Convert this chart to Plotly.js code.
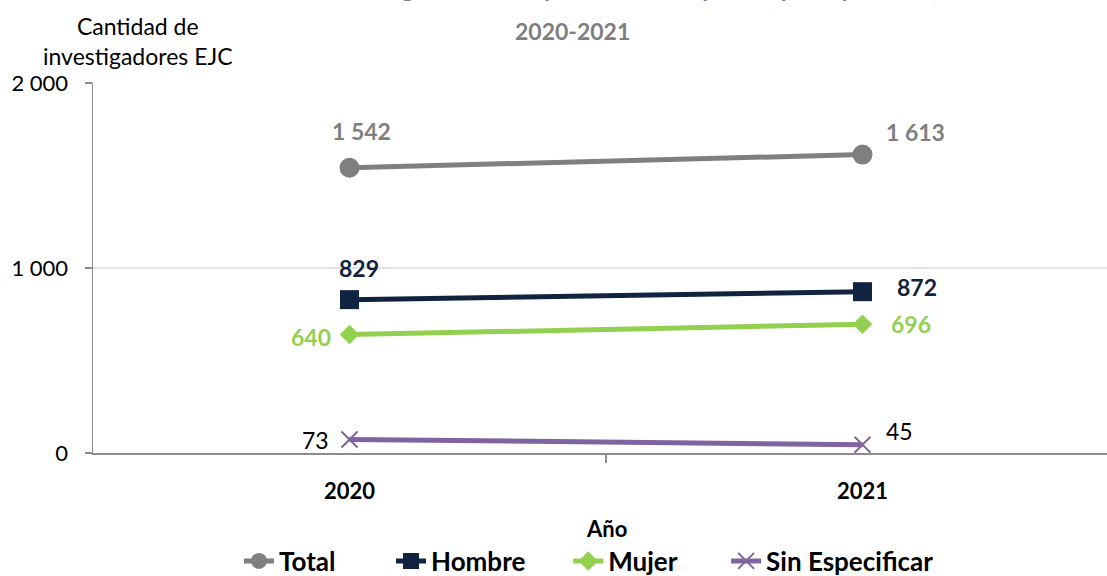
<!DOCTYPE html>
<html>
<head>
<meta charset="utf-8">
<script src="https://cdn.plot.ly/plotly-3.0.1.min.js"></script>
<style>
  html, body { margin: 0; padding: 0; background: #ffffff; }
  #chart { width: 1107px; height: 576px; }
</style>
</head>
<body>
<div id="chart"></div>
<script>
// ---- Data ----
const years = ['2020', '2021'];
const seriesNames = ['Total', 'Hombre', 'Mujer', 'Sin Especificar'];
const total = [1542, 1613];
const hombre = [829, 872];
const mujer = [640, 696];
const sinEspecificar = [73, 45];
const titleLine1 = 'Costa Rica: Investigadores en equivalente tiempo completo por sexo,';
const titleLine2 = '2020-2021';
const yAxisTitle = 'Cantidad de<br>investigadores EJC';
const xAxisTitle = 'Año';

// ---- Styles ----
const FONT = 'Lato, "Open Sans", sans-serif';
const colors = { total: '#7f7f7f', hombre: '#10243f', mujer: '#92d050', sin: '#8064a2' };
const xIdx = years.map((_, i) => i);
const NB = '\u00a0';
const legendPad = [8, 6, 7, 0];
function legendName(n, i) { return n + NB.repeat(legendPad[i]); }

function fmt(v) {
  return String(v).replace(/\B(?=(\d{3})+(?!\d))/g, ' ');
}

const traces = [
  { name: legendName(seriesNames[0], 0), x: xIdx, y: total, mode: 'lines+markers', type: 'scatter',
    line: { color: colors.total, width: 5 },
    marker: { symbol: 'circle', size: 20, color: colors.total } },
  { name: legendName(seriesNames[1], 1), x: xIdx, y: hombre, mode: 'lines+markers', type: 'scatter',
    line: { color: colors.hombre, width: 5 },
    marker: { symbol: 'square', size: 19, color: colors.hombre } },
  { name: legendName(seriesNames[2], 2), x: xIdx, y: mujer, mode: 'lines+markers', type: 'scatter',
    line: { color: colors.mujer, width: 5 },
    marker: { symbol: 'diamond', size: 15, color: colors.mujer } },
  { name: legendName(seriesNames[3], 3), x: xIdx, y: sinEspecificar, mode: 'lines+markers', type: 'scatter',
    line: { color: colors.sin, width: 5 },
    marker: { symbol: 'x-thin', size: 16, color: colors.sin, line: { color: colors.sin, width: 2 } } }
];

// label placement per series: [xshift, yshift, xanchor] for each year
const labelSpecs = [
  { vals: total, color: colors.total, bold: true, pos: [[12, 37, 'center'], [53, 23, 'center']] },
  { vals: hombre, color: colors.hombre, bold: true, pos: [[9, 32, 'center'], [54, 5, 'center']] },
  { vals: mujer, color: colors.mujer, bold: true, pos: [[-17, -2, 'right'], [48, 0, 'center']] },
  { vals: sinEspecificar, color: '#000000', bold: false, pos: [[-19, 0, 'right'], [37, 14, 'center']] }
];

const annotations = [];
labelSpecs.forEach(s => {
  s.vals.forEach((v, i) => {
    const p = s.pos[i];
    annotations.push({
      xref: 'x', yref: 'y', x: xIdx[i], y: v,
      text: s.bold ? '<b>' + fmt(v) + '</b>' : fmt(v),
      showarrow: false, xanchor: p[2], yanchor: 'middle',
      xshift: p[0], yshift: p[1],
      font: { family: FONT, size: 23, color: s.color }
    });
  });
});

// title (first line clipped at top as in reference)
annotations.push({
  xref: 'paper', yref: 'paper', x: 0.4724, y: (453 - 4) / 370, xanchor: 'center', yanchor: 'bottom',
  text: '<b>' + titleLine1 + '</b>', showarrow: false,
  font: { family: FONT, size: 24, color: '#7f7f7f' }
});
annotations.push({
  xref: 'paper', yref: 'paper', x: 0.4724, y: 1.1405, xanchor: 'center', yanchor: 'middle',
  text: '<b>' + titleLine2 + '</b>', showarrow: false,
  font: { family: FONT, size: 23, color: '#7f7f7f' }
});
// y axis title (horizontal, top-left)
annotations.push({
  xref: 'paper', yref: 'paper', x: (138 - 93) / 1014, y: (453 - 41) / 370,
  xanchor: 'center', yanchor: 'middle', align: 'center',
  text: yAxisTitle, showarrow: false,
  font: { family: FONT, size: 23, color: '#000000' }
});
// x axis title
annotations.push({
  xref: 'x', yref: 'paper', x: 0.5, y: (453 - 528) / 370,
  xanchor: 'center', yanchor: 'middle',
  text: '<b>' + xAxisTitle + '</b>', showarrow: false,
  font: { family: FONT, size: 22, color: '#000000' }
});

const layout = {
  width: 1107, height: 576,
  margin: { l: 93, r: 0, t: 83, b: 123, pad: 0, autoexpand: false },
  paper_bgcolor: '#ffffff', plot_bgcolor: '#ffffff',
  separators: ', ',
  font: { family: FONT, size: 22, color: '#000000' },
  showlegend: true,
  legend: {
    orientation: 'h', x: (239 - 93) / 1014, xanchor: 'left',
    yref: 'container', y: (576 - 561) / 576, yanchor: 'middle',
    font: { family: FONT, size: 26, color: '#000000', weight: 'bold' },
    traceorder: 'normal', itemclick: false, bgcolor: 'rgba(0,0,0,0)'
  },
  xaxis: {
    type: 'linear', range: [-0.5, 1.5 - 12 / 513],
    tickmode: 'array', tickvals: xIdx, ticktext: years.map(y => '<b>' + y + '</b>'),
    ticks: '', showgrid: false, zeroline: false,
    showline: true, linecolor: '#8c8c8c', linewidth: 1.5,
    ticklabelstandoff: 18,
    tickfont: { family: FONT, size: 22, color: '#000000' },
    minor: { tickmode: 'array', tickvals: [0.5], ticks: 'outside', ticklen: 8, tickcolor: '#8c8c8c', tickwidth: 1.5, showgrid: false },
    fixedrange: true
  },
  yaxis: {
    range: [0, 2000], tickmode: 'linear', tick0: 0, dtick: 1000,
    showgrid: true, gridcolor: '#e3e3e3', gridwidth: 1.2,
    zeroline: false, showline: true, linecolor: '#8c8c8c', linewidth: 1.5,
    ticks: 'outside', ticklen: 7, tickcolor: '#8c8c8c', tickwidth: 1.5,
    ticklabelstandoff: 12,
    tickformat: ',d',
    tickfont: { family: FONT, size: 22, color: '#000000' },
    fixedrange: true
  },
  annotations: annotations
};

Plotly.newPlot('chart', traces, layout, { displayModeBar: false, staticPlot: true });
</script>
</body>
</html>
